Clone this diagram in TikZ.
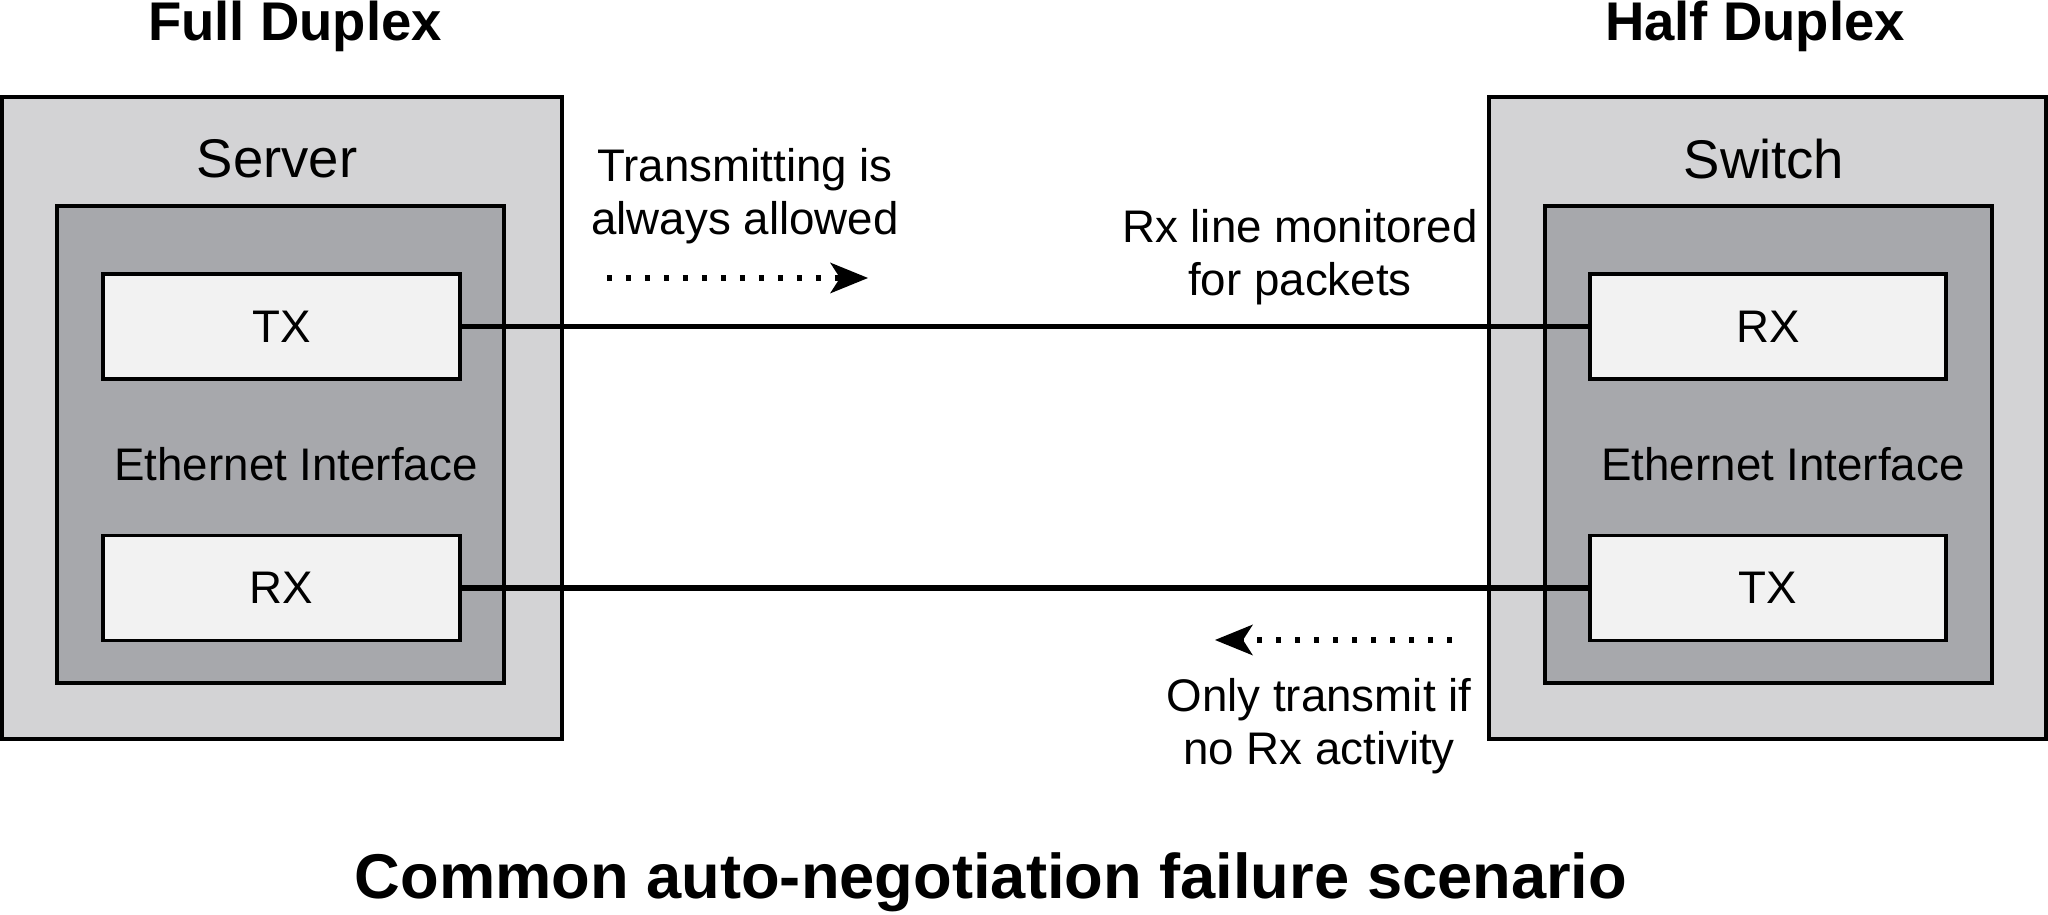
\documentclass[tikz,border=0pt]{standalone}
\usepackage{fontspec}
\setmainfont{Liberation Sans}
\usepackage{tikz}
\usetikzlibrary{arrows.meta}
\usetikzlibrary{positioning}
\definecolor{boxgrey}{RGB}{211, 211, 213}
\definecolor{cardgrey}{RGB}{167, 168, 172}
\definecolor{portgrey}{RGB}{242, 242, 242}
\tikzset{chassis/.style = {draw, fill = boxgrey, line width = 1pt, inner sep = 0, minimum width = 5.6cm, minimum height = 6.42cm}}
\tikzset{card/.style = {draw, fill = cardgrey, line width = 1pt, inner sep = 0, minimum width = 4.47cm, minimum height = 4.77cm}}
\tikzset{port/.style = {draw, fill = portgrey, line width = 1pt, inner sep = 0, minimum width = 3.57cm, minimum height = 1.05cm, font = \fontsize{13pt}{15pt}\selectfont}}
\tikzset{wire/.style = {line width = 1.6pt}}
\tikzset{flow/.style = {line width = 1.7pt, dash pattern = on 1.5pt off 3.9pt, -{Stealth[length = 3.8mm, width = 3.1mm, inset = 1mm, line width = 0pt]}}}
\tikzset{note/.style = {align = center, font = \fontsize{13pt}{15pt}\selectfont}}

\begin{document}
\begin{tikzpicture}
      \useasboundingbox (0, 0) rectangle (20.48, 9.15);
      % server side
      \node [chassis] (srv) at (2.82, 4.97) {};
      \node [card] (srvnic) at (2.805, 4.705) {};
      \node [port] (srvtx) at (2.815, 5.885) {TX};
      \node [port] (srvrx) at (2.815, 3.27) {RX};
      \node [font = \fontsize{15.5pt}{18pt}\selectfont] (srvname) at (2.77, 7.56) {Server};
      \node [note] (srvlabel) at (2.96, 4.51) {Ethernet Interface};
      \node [font = \fontsize{15.5pt}{18pt}\selectfont\bfseries] (srvmode) at (2.95, 8.89) {Full Duplex};
      % switch side
      \node [chassis, minimum width = 5.57cm] (sw) at (17.675, 4.97) {};
      \node [card] (swnic) at (17.685, 4.705) {};
      \node [port, minimum width = 3.56cm] (swrx) at (17.68, 5.885) {RX};
      \node [port, minimum width = 3.56cm] (swtx) at (17.68, 3.27) {TX};
      \node [font = \fontsize{15.5pt}{18pt}\selectfont] (swname) at (17.64, 7.56) {Switch};
      \node [note] (swlabel) at (17.83, 4.51) {Ethernet Interface};
      \node [font = \fontsize{15.5pt}{18pt}\selectfont\bfseries] (swmode) at (17.55, 8.89) {Half Duplex};
      % links
      \draw [wire] (srvtx.east) -- (swrx.west);
      \draw [wire] (srvrx.east) -- (swtx.west);
      % notes
      \node [note] (txnote) at (7.45, 7.19) {Transmitting is\\always allowed};
      \node [note] (rxnote) at (13.0, 6.58) {Rx line monitored\\for packets};
      \node [note] (hdnote) at (13.19, 1.89) {Only transmit if\\no Rx activity};
      \coordinate (txfrom) at (6.07, 6.37);
      \coordinate (txto) at (8.68, 6.37);
      \coordinate (hdfrom) at (14.52, 2.75);
      \coordinate (hdto) at (12.15, 2.75);
      \draw [flow] (txfrom) -- (txto);
      \draw [flow] (hdfrom) -- (hdto);
      \node [font = \fontsize{18pt}{21pt}\selectfont\bfseries] (title) at (9.91, 0.33) {Common auto-negotiation failure scenario};
    \end{tikzpicture}
\end{document}
